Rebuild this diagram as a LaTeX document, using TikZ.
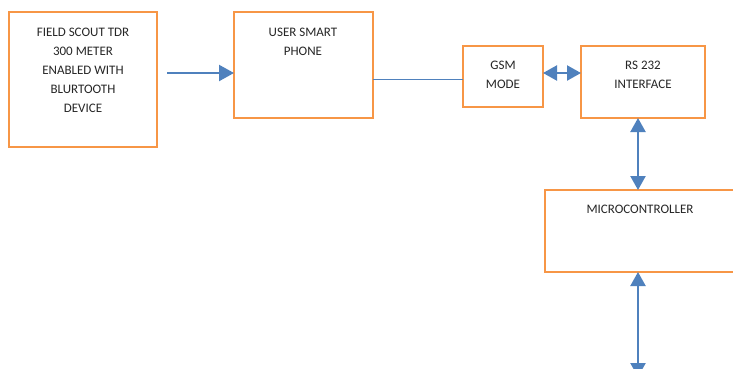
\documentclass[tikz,border=0pt]{standalone}
\usepackage{fontspec}
\setmainfont{Carlito}
\usetikzlibrary{arrows.meta}
\definecolor{boxorange}{HTML}{F79646}
\definecolor{arrowblue}{HTML}{4F81BD}
\tikzset{
  blk/.style={draw=boxorange, line width=2pt, fill=white, inner sep=0pt, outer sep=0pt, rectangle},
  txt/.style={anchor=north, inner sep=0pt, align=center, text=black!85, font=\fontsize{13}{19}\selectfont},
  bigarrow/.style={draw=arrowblue, line width=2.2pt, -{Triangle[length=15pt,width=16pt]}},
  dblarrow/.style={draw=arrowblue, line width=2.2pt, {Triangle[length=14pt,width=15pt]}-{Triangle[length=14pt,width=15pt]}},
  thinline/.style={draw=arrowblue, line width=1pt}
}
\begin{document}
\begin{tikzpicture}[x=1pt,y=-1pt]
\useasboundingbox (0,0) rectangle (733,368);
\clip (0,0) rectangle (733,368);
\fill[white] (0,0) rectangle (733,368);
% boxes
\node[blk, minimum width=148pt, minimum height=135pt] (b1) at (83,79.5) {};
\node[blk, minimum width=139pt, minimum height=106pt] (b2) at (303.5,65) {};
\node[blk, minimum width=80pt, minimum height=61pt] (gsm) at (503,76.5) {};
\node[blk, minimum width=124pt, minimum height=72pt] (rs) at (643,82) {};
\node[blk, minimum width=210pt, minimum height=82pt] (mc) at (650,231) {};
% texts
\node[txt] (t1) at (83,27.8) {FIELD SCOUT TDR\\300 METER\\ENABLED WITH\\BLURTOOTH\\DEVICE};
\node[txt] (t2) at (303,27.8) {USER SMART\\PHONE};
\node[txt] (t3) at (503,60.8) {GSM\\MODE};
\node[txt] (t4) at (643,60.8) {RS 232\\INTERFACE};
\node[txt] (t5) at (640,204.8) {MICROCONTROLLER};
% connectors
\coordinate (a1s) at (167,73);
\coordinate (a1e) at (b2.west |- 0,73);
\draw[bigarrow] (a1s) -- (a1e);
\draw[thinline] (b2.east |- 0,79) -- (gsm.west |- 0,79);
\draw[dblarrow] (gsm.east |- 0,73) -- (rs.west |- 0,73);
\coordinate (v1) at (638,118);
\coordinate (v2) at (638,190);
\draw[dblarrow] (v1) -- (v2);
\coordinate (v3) at (638,272);
\coordinate (v4) at (638,377);
\draw[dblarrow] (v3) -- (v4);
\end{tikzpicture}
\end{document}
